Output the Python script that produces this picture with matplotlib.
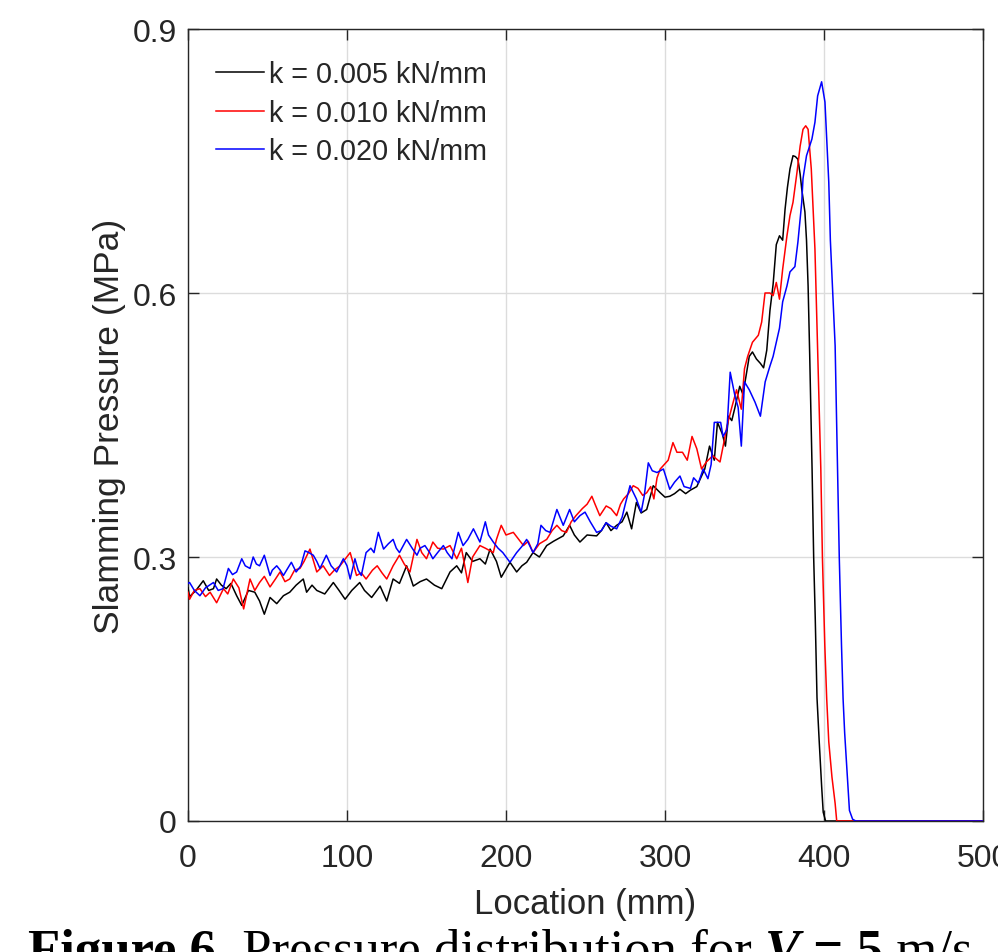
import matplotlib
matplotlib.use("Agg")
import matplotlib.pyplot as plt

# location (mm) vs slamming pressure (MPa)
labels = ["k = 0.005 kN/mm", "k = 0.010 kN/mm", "k = 0.020 kN/mm"]
colors = ["k", "r", "b"]

x_005 = [0, 1, 5, 9.6, 13, 16, 18, 21, 24, 27, 30.6, 33.8, 38, 42, 45, 48, 51.6, 55.8, 60, 64,
         68, 72.5, 74.6, 78, 81, 86, 91.4, 95, 98.8, 103, 108, 111, 115.5, 120.8, 125, 129, 133,
         137.5, 141.7, 146, 150, 155, 159.6, 164.8, 169, 172, 175, 179, 183.6, 187, 190, 194,
         197, 202.5, 206.7, 210, 213, 217, 221, 225.6, 230, 236, 240, 243, 246.5, 251, 257, 260,
         263, 266, 269.6, 273, 276, 279, 282, 285, 288.5, 292.6, 297, 300, 303, 306, 309.4, 313,
         316, 320, 323, 325, 328, 331, 333, 336, 338, 340, 342, 344, 347, 349, 351, 353, 355,
         357.5, 360, 362, 364, 366, 368, 370, 372, 374, 375.5, 377, 378.6, 380.5, 382, 383.6,
         385, 386, 388, 389, 390, 391, 392.5, 393.5, 394.5, 395.6, 397, 398.5, 399.5, 401, 500]
p_005 = [0.265, 0.255, 0.262, 0.273, 0.262, 0.264, 0.275, 0.268, 0.264, 0.27, 0.256, 0.245,
         0.262, 0.26, 0.25, 0.235, 0.254, 0.247, 0.256, 0.26, 0.268, 0.275, 0.26, 0.268, 0.262,
         0.258, 0.271, 0.262, 0.252, 0.262, 0.271, 0.262, 0.254, 0.267, 0.25, 0.275, 0.27, 0.29,
         0.267, 0.272, 0.275, 0.268, 0.264, 0.283, 0.29, 0.282, 0.305, 0.295, 0.298, 0.292,
         0.309, 0.295, 0.277, 0.294, 0.283, 0.29, 0.294, 0.305, 0.3, 0.313, 0.318, 0.324, 0.336,
         0.325, 0.317, 0.325, 0.324, 0.33, 0.339, 0.33, 0.336, 0.34, 0.351, 0.332, 0.362, 0.35,
         0.354, 0.381, 0.373, 0.368, 0.369, 0.372, 0.377, 0.372, 0.376, 0.38, 0.392, 0.40, 0.426,
         0.41, 0.453, 0.44, 0.426, 0.46, 0.455, 0.47, 0.494, 0.485, 0.506, 0.528, 0.533, 0.525,
         0.52, 0.515, 0.535, 0.58, 0.61, 0.655, 0.665, 0.66, 0.695, 0.72, 0.741, 0.756, 0.755,
         0.752, 0.735, 0.718, 0.692, 0.66, 0.608, 0.53, 0.40, 0.30, 0.23, 0.14, 0.09, 0.04, 0.01,
         0, 0]

x_010 = [0, 1, 4, 7.5, 11, 13.9, 18, 22.3, 25, 28.5, 32, 35, 39, 42, 45, 48, 51.6, 55, 57.9, 61,
         64, 67, 70.4, 73, 76.7, 79, 81, 85, 89, 92, 95.6, 99, 102, 106, 109, 112, 116, 119, 122,
         125, 129, 133, 136, 139.6, 144, 147, 150, 154, 157, 160.6, 164.8, 167, 169, 172, 176,
         179, 183.6, 187, 192, 194, 197, 200, 204.6, 208, 211, 214, 217, 221, 225.6, 229, 232,
         235, 238, 241, 244, 248, 251, 254, 256, 259, 263, 266, 269.6, 272, 274, 277, 280, 283,
         286, 288.5, 291, 293, 295, 297, 299, 302, 305, 307.5, 311, 314, 317, 320, 323, 326, 330,
         334.6, 337, 339, 342, 345, 348, 350, 352, 355, 358.7, 360.8, 362.9, 366, 368, 370, 372,
         374, 376.7, 378.6, 380.5, 383, 385, 386.8, 388.5, 390, 392, 394.3, 396, 398, 399, 400.5,
         401.7, 403, 405, 407, 408, 500]
p_010 = [0.26, 0.252, 0.262, 0.264, 0.255, 0.26, 0.248, 0.264, 0.258, 0.275, 0.265, 0.241, 0.275,
         0.262, 0.271, 0.278, 0.266, 0.275, 0.283, 0.272, 0.275, 0.285, 0.287, 0.295, 0.309, 0.295,
         0.283, 0.29, 0.279, 0.285, 0.29, 0.298, 0.305, 0.279, 0.282, 0.275, 0.285, 0.29, 0.282,
         0.275, 0.29, 0.302, 0.292, 0.283, 0.32, 0.305, 0.298, 0.317, 0.31, 0.309, 0.313, 0.305,
         0.298, 0.31, 0.271, 0.3, 0.313, 0.31, 0.305, 0.32, 0.336, 0.325, 0.328, 0.32, 0.313,
         0.318, 0.305, 0.315, 0.32, 0.33, 0.336, 0.33, 0.328, 0.34, 0.347, 0.355, 0.36, 0.369,
         0.36, 0.347, 0.358, 0.355, 0.347, 0.36, 0.366, 0.372, 0.381, 0.378, 0.37, 0.373, 0.38,
         0.366, 0.39, 0.40, 0.404, 0.41, 0.43, 0.419, 0.419, 0.41, 0.437, 0.423, 0.40, 0.408,
         0.415, 0.408, 0.43, 0.449, 0.47, 0.49, 0.468, 0.514, 0.528, 0.544, 0.552, 0.567, 0.60,
         0.60, 0.597, 0.612, 0.593, 0.627, 0.665, 0.688, 0.703, 0.737, 0.767, 0.786, 0.79, 0.786,
         0.741, 0.65, 0.533, 0.40, 0.30, 0.2, 0.139, 0.09, 0.05, 0.02, 0, 0]

x_020 = [0, 1, 4, 7.5, 11, 16, 19, 22, 25.4, 28, 30.6, 33.8, 36, 39, 41, 43, 45, 48, 51.6, 53,
         55.8, 58, 60, 62, 65, 68, 71, 73.6, 76, 78.8, 81, 83, 87, 90, 93.5, 97.7, 100, 102, 105,
         107, 109, 112, 115, 117, 119.7, 123, 126, 129, 131, 133, 137.5, 141, 144, 146, 149, 152,
         154, 157, 160.6, 163, 166, 170, 173, 176, 179.5, 183.6, 187, 189, 192, 195, 198, 202.5,
         206.7, 210, 213, 217, 220, 222, 225, 227.7, 232, 236, 240, 243, 246.5, 249.7, 253, 257,
         260, 263, 266, 269.6, 273, 275, 278, 282, 285, 287, 289.5, 292, 295, 299, 303, 306,
         309.4, 312, 316, 318, 321, 324, 327, 329, 331, 335, 336.5, 339, 341, 344, 346, 348, 350,
         353, 356.6, 360, 363, 366, 368, 372, 374, 376.7, 378.6, 381.7, 383.6, 386, 386.8, 389,
         392.4, 394.3, 396, 398.5, 400.6, 402, 403, 404, 405.5, 407, 408.5, 409.6, 411, 412, 413,
         414, 415, 416, 418, 420, 500]
p_020 = [0.27, 0.271, 0.262, 0.256, 0.265, 0.271, 0.262, 0.264, 0.287, 0.28, 0.283, 0.298, 0.29,
         0.287, 0.30, 0.292, 0.29, 0.302, 0.279, 0.285, 0.29, 0.285, 0.279, 0.285, 0.294, 0.283,
         0.29, 0.307, 0.305, 0.302, 0.295, 0.287, 0.302, 0.29, 0.283, 0.298, 0.29, 0.275, 0.298,
         0.285, 0.279, 0.305, 0.31, 0.305, 0.328, 0.309, 0.315, 0.32, 0.31, 0.305, 0.32, 0.31,
         0.302, 0.31, 0.313, 0.305, 0.298, 0.305, 0.313, 0.305, 0.298, 0.328, 0.313, 0.32, 0.332,
         0.317, 0.34, 0.325, 0.317, 0.31, 0.305, 0.294, 0.305, 0.312, 0.32, 0.305, 0.315, 0.336,
         0.33, 0.328, 0.354, 0.336, 0.354, 0.34, 0.347, 0.351, 0.34, 0.328, 0.33, 0.339, 0.335,
         0.332, 0.345, 0.36, 0.381, 0.366, 0.351, 0.37, 0.407, 0.398, 0.396, 0.40, 0.377, 0.385,
         0.392, 0.38, 0.378, 0.39, 0.384, 0.40, 0.389, 0.405, 0.453, 0.453, 0.437, 0.445, 0.51,
         0.483, 0.47, 0.426, 0.499, 0.49, 0.476, 0.46, 0.499, 0.517, 0.528, 0.56, 0.59, 0.608,
         0.624, 0.63, 0.658, 0.703, 0.73, 0.756, 0.775, 0.794, 0.824, 0.84, 0.817, 0.764, 0.726,
         0.66, 0.60, 0.54, 0.40, 0.3, 0.2, 0.139, 0.1, 0.07, 0.04, 0.012, 0.002, 0, 0]

series = [(x_005, p_005), (x_010, p_010), (x_020, p_020)]

plt.rcParams['font.family'] = ['Liberation Sans', 'DejaVu Sans']
gray = '#262626'

fig = plt.figure(figsize=(9.98, 9.53), dpi=100)
ax = fig.add_axes([188 / 998, 131 / 953, 795 / 998, 792 / 953])

for (x, p), c, lab in zip(series, colors, labels):
    ax.plot(x, p, color=c, linewidth=1.1, label=lab, zorder=3)

ax.set_xlim(0, 500)
ax.set_ylim(0, 0.9)
ax.set_xticks([0, 100, 200, 300, 400, 500])
ax.set_yticks([0, 0.3, 0.6, 0.9])
ax.set_yticklabels(['0', '0.3', '0.6', '0.9'])
ax.grid(True, color='#dcdcdc', linewidth=1.0)
ax.set_axisbelow(True)
ax.tick_params(direction='in', length=8, width=1, colors=gray, labelsize=23,
               top=True, right=True)
ax.tick_params(axis='x', pad=16)
ax.tick_params(axis='y', pad=8)
for s in ax.spines.values():
    s.set_color(gray)
    s.set_linewidth(1.0)

ax.set_xlabel('Location (mm)', fontsize=25, color=gray, labelpad=10)
ax.set_ylabel('Slamming Pressure (MPa)', fontsize=25.5, color=gray, labelpad=5)

ax.legend(loc='upper left', bbox_to_anchor=(0.003, 0.993), frameon=False, fontsize=20.7,
          handlelength=1.65, handletextpad=0.2, labelspacing=0.36, labelcolor=gray)

# caption of the paper, cut off at the bottom edge
fig.canvas.draw()
r = fig.canvas.get_renderer()
cap_y = -13 / 953
xpos = 28
pieces = [("Figure 6.", dict(fontweight='bold')),
          (" Pressure distribution for ", dict()),
          ("V", dict(style='italic', fontweight='bold')),
          (" = 5", dict(fontweight='bold')),
          (" m/s", dict())]
for txt, kw in pieces:
    t = fig.text(xpos / 998, cap_y, txt, family='Liberation Serif', fontsize=38,
                 va='baseline', ha='left', color='black', **kw)
    bb = t.get_window_extent(r)
    xpos = bb.x1

fig.savefig('out.png', dpi=100)
